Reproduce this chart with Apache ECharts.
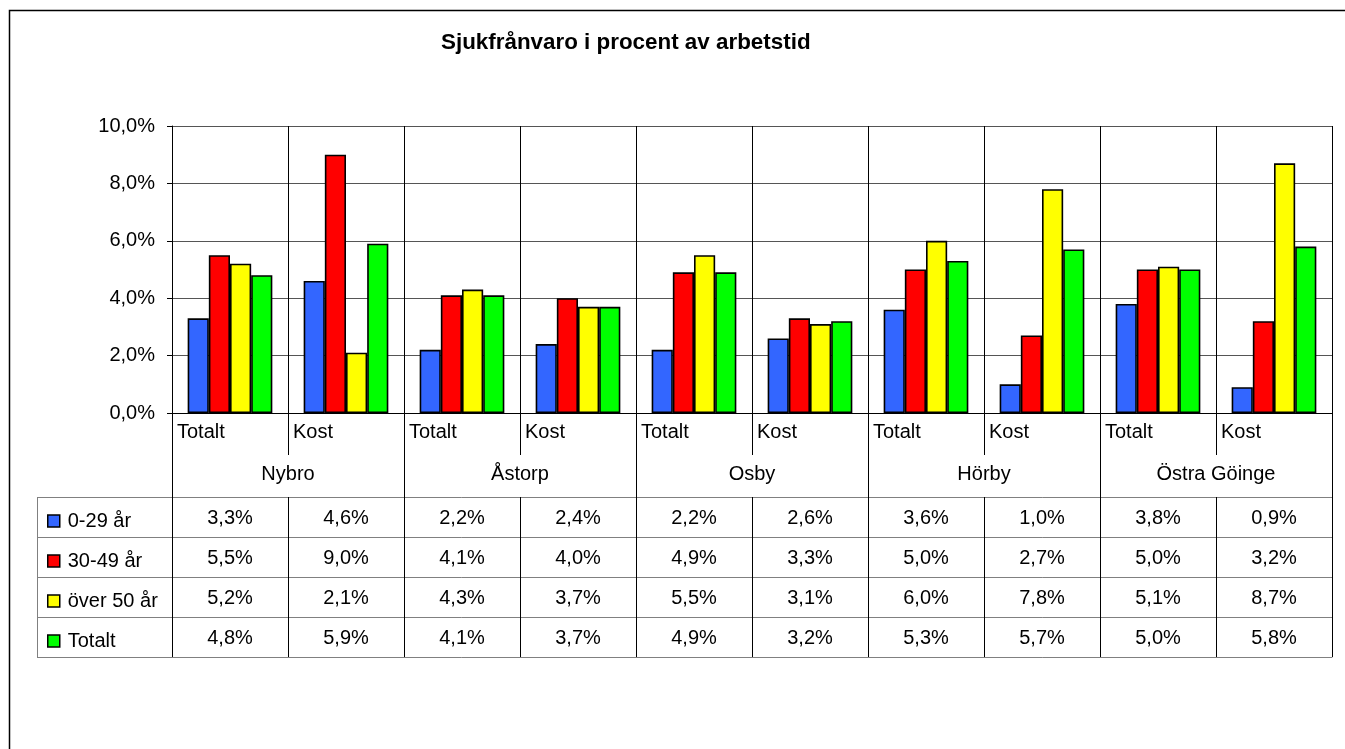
<!DOCTYPE html>
<html>
<head>
<meta charset="utf-8">
<script src="https://cdn.jsdelivr.net/npm/echarts@6/dist/echarts.min.js"></script>
<style>
  html, body { margin: 0; padding: 0; background: #fff; }
  #chart { width: 1345px; height: 749px; }
</style>
</head>
<body>
<div id="chart"></div>
<script>
// data
var groups = ['Nybro', 'Åstorp', 'Osby', 'Hörby', 'Östra Göinge'];
var subs = ['Totalt', 'Kost'];
var seriesNames = ['0-29 år', '30-49 år', 'över 50 år', 'Totalt'];
var age0_29 = [3.3, 4.6, 2.2, 2.4, 2.2, 2.6, 3.6, 1.0, 3.8, 0.9];
var age30_49 = [5.5, 9.0, 4.1, 4.0, 4.9, 3.3, 5.0, 2.7, 5.0, 3.2];
var over50 = [5.2, 2.1, 4.3, 3.7, 5.5, 3.1, 6.0, 7.8, 5.1, 8.7];
var total = [4.8, 5.9, 4.1, 3.7, 4.9, 3.2, 5.3, 5.7, 5.0, 5.8];
var colors = ['#3366FF', '#FF0000', '#FFFF00', '#00FF00'];

var font = 'Liberation Sans, Arial, sans-serif';
var rows = [age0_29, age30_49, over50, total];

// unique category ids, labels shown via formatter
var cats = [];
groups.forEach(function (g) {
    subs.forEach(function (s) { cats.push(g + '|' + s); });
});

function pct(v) {
    return v.toFixed(1).replace('.', ',') + '%';
}

var myChart = echarts.init(document.getElementById('chart'));

var xAxes = [
    {
        // Totalt / Kost row
        type: 'category',
        data: cats,
        gridIndex: 0,
        position: 'bottom',
        axisLine: { show: true, lineStyle: { color: '#000', width: 1 } },
        axisTick: { show: true, length: 42, interval: 0, lineStyle: { color: '#000', width: 1 } },
        axisLabel: {
            interval: 0,
            margin: 9,
            formatter: function (v, i) { return '{a|' + subs[i % 2] + '}'; },
            rich: { a: { width: 106, align: 'left', fontSize: 20, fontFamily: font, color: '#000' } }
        },
        splitLine: { show: true, interval: 0, lineStyle: { color: '#000', width: 1 } }
    },
    {
        // group names
        type: 'category',
        data: groups,
        gridIndex: 0,
        position: 'bottom',
        axisLine: { show: false },
        axisTick: { show: true, length: 244, interval: 0, lineStyle: { color: '#000', width: 1 } },
        axisLabel: { interval: 0, margin: 51, fontSize: 20, fontFamily: font, color: '#000' },
        splitLine: { show: false }
    }
];

// data table rows as extra axes
rows.forEach(function (row, r) {
    xAxes.push({
        type: 'category',
        data: cats,
        gridIndex: 0,
        position: 'bottom',
        offset: 84 + 40 * r,
        axisLine: { show: true, lineStyle: { color: '#808080', width: 1 } },
        axisTick: { show: true, length: 40, interval: 0, lineStyle: { color: '#000', width: 1 } },
        axisLabel: {
            interval: 0,
            margin: 11,
            fontSize: 20,
            fontFamily: font,
            color: '#000',
            formatter: function (v, i) { return pct(row[i]); }
        },
        splitLine: { show: false }
    });
});
// bottom line of the table
xAxes.push({
    type: 'category',
    data: cats,
    gridIndex: 0,
    position: 'bottom',
    offset: 244,
    axisLine: { show: true, lineStyle: { color: '#808080', width: 1 } },
    axisTick: { show: false },
    axisLabel: { show: false },
    splitLine: { show: false }
});

var seriesarr = seriesNames.map(function (name, k) {
    return {
        name: name,
        type: 'bar',
        xAxisIndex: 0,
        yAxisIndex: 0,
        barGap: '0%',
        barCategoryGap: '27%',
        itemStyle: { color: colors[k], borderColor: '#000', borderWidth: 1.6 },
        data: rows[k]
    };
});

// left column of the table (legend cells)
var tableLines = [];
[497, 537, 577, 617, 657].forEach(function (y) {
    tableLines.push({
        type: 'line',
        shape: { x1: 37, y1: y + 0.5, x2: 172, y2: y + 0.5 },
        style: { stroke: '#808080', lineWidth: 1 }
    });
});
tableLines.push({
    type: 'line',
    shape: { x1: 37.5, y1: 497, x2: 37.5, y2: 657 },
    style: { stroke: '#808080', lineWidth: 1 }
});

var option = {
    animation: false,
    backgroundColor: '#fff',
    title: {
        text: 'Sjukfrånvaro i procent av arbetstid',
        left: 436,
        top: 27,
        textStyle: { fontSize: 22.4, fontWeight: 'bold', fontFamily: font, color: '#000' }
    },
    legend: {
        data: seriesNames,
        orient: 'vertical',
        left: 42,
        top: 506,
        itemWidth: 12,
        itemHeight: 12,
        itemGap: 20,
        selectedMode: false,
        icon: 'rect',
        itemStyle: { borderColor: '#000', borderWidth: 1.5 },
        textStyle: { fontSize: 20, lineHeight: 20, fontFamily: font, color: '#000', padding: [0, 0, 0, 3] }
    },
    grid: { left: 172, right: 13, top: 126, bottom: 336, containLabel: false },
    xAxis: xAxes,
    yAxis: {
        type: 'value',
        min: 0,
        max: 10,
        interval: 2,
        axisLine: { show: true, lineStyle: { color: '#000' } },
        axisTick: { show: true, length: 5, lineStyle: { color: '#000' } },
        axisLabel: {
            margin: 17,
            fontSize: 20,
            fontFamily: font,
            color: '#000',
            formatter: function (v) { return pct(v); }
        },
        splitLine: { show: true, lineStyle: { color: '#555', width: 1 } }
    },
    graphic: [
        {
            type: 'rect',
            shape: { x: 9.5, y: 10.5, width: 1400, height: 800 },
            style: { fill: 'none', stroke: '#000', lineWidth: 1.5 },
            z: 100
        }
    ].concat(tableLines),
    series: seriesarr
};
myChart.setOption(option);
</script>
</body>
</html>
